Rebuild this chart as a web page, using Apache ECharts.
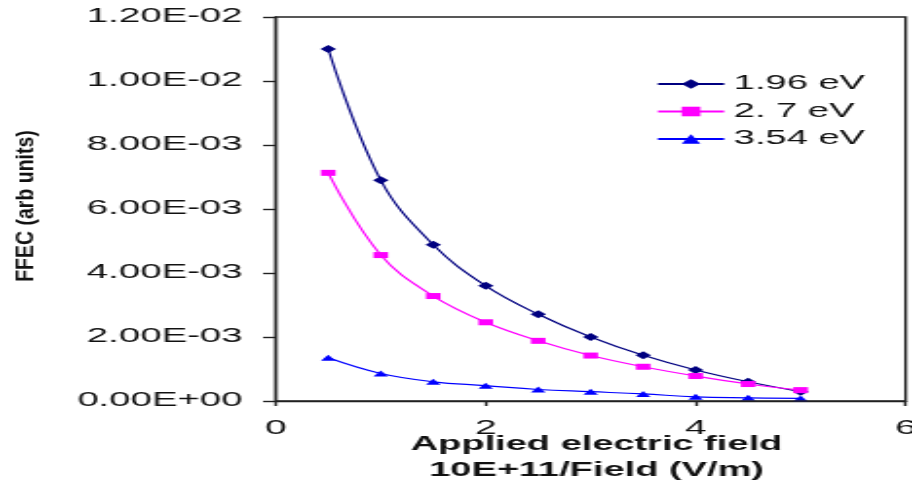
<!DOCTYPE html>
<html>
<head>
<meta charset="utf-8">
<script src="https://cdn.jsdelivr.net/npm/echarts@6/dist/echarts.min.js"></script>
<style>
  html, body { margin: 0; padding: 0; background: #fff; overflow: hidden; }
  #wrap { width: 912px; height: 481px; overflow: hidden; }
  #chart { width: 468px; height: 481px; transform: scaleX(1.94872); transform-origin: 0 0; }
</style>
</head>
<body>
<div id="wrap"><div id="chart"></div></div>
<script>
// ---- data ----
var fieldX = [0.5, 1, 1.5, 2, 2.5, 3, 3.5, 4, 4.5, 5];
var seriesNames = ['1.96 eV', '2. 7 eV', '3.54 eV'];
var ev196 = [0.0110, 0.0069, 0.00488, 0.00360, 0.00271, 0.00200, 0.00143, 0.00097, 0.00060, 0.00029];
var ev27  = [0.00713, 0.00456, 0.00328, 0.00246, 0.00188, 0.00142, 0.00107, 0.00078, 0.00053, 0.00034];
var ev354 = [0.00135, 0.00086, 0.00060, 0.00048, 0.00036, 0.00029, 0.00022, 0.00013, 0.00010, 0.00008];
var yTickLabels = ['0.00E+00', '2.00E-03', '4.00E-03', '6.00E-03', '8.00E-03', '1.00E-02', '1.20E-02'];
var xTickLabels = ['0', '2', '4', '6'];
var xRange = [0, 6];
var yRange = [0, 0.012];

function pairs(xs, ys) { return xs.map(function (x, i) { return [x, ys[i]]; }); }

var FONT = "'Liberation Sans', Arial, sans-serif";
var AX = '#222';
var NONE = 'rgba(0,0,0,0)';

var chart = echarts.init(document.getElementById('chart'), null, { renderer: 'canvas' });
chart.setOption({
  animation: false,
  textStyle: { fontFamily: FONT },
  grid: { left: 141.5, right: 3.3, top: 17, bottom: 80, containLabel: false, outerBoundsMode: 'none' },
  legend: {
    left: 336.6, top: 74, orient: 'vertical', padding: 0,
    itemWidth: 34, itemHeight: 12, itemGap: 7.5,
    textStyle: { fontFamily: FONT, fontSize: 19.5, color: '#111', lineHeight: 20 },
    data: seriesNames
  },
  xAxis: {
    type: 'value', min: xRange[0], max: xRange[1], interval: 2,
    axisLine: { onZero: false, lineStyle: { color: AX, width: 1.4 } },
    axisTick: { show: true, length: 5, inside: false, lineStyle: { color: AX, width: 1.4 } },
    splitLine: { show: true, showMinLine: false, showMaxLine: true,
      lineStyle: { color: [NONE, NONE, NONE, AX], width: 1.4, type: 'solid' } },
    axisLabel: { fontFamily: FONT, fontSize: 20, color: '#111', margin: 17,
      formatter: function (v) { return xTickLabels[Math.round(v / 2)]; } },
    name: 'Applied electric field\n10E+11/Field (V/m)',
    nameLocation: 'middle', nameGap: 31, nameMoveOverlap: false,
    nameTextStyle: { fontFamily: FONT, fontSize: 19.5, fontWeight: 'bold', color: '#111', lineHeight: 25.5, padding: [0, 0, 0, 6] }
  },
  yAxis: {
    type: 'value', min: yRange[0], max: yRange[1], interval: 0.002,
    axisLine: { show: true, onZero: false, lineStyle: { color: AX, width: 1.4 } },
    axisTick: { show: true, length: 6.5, inside: false, lineStyle: { color: AX, width: 1.4 } },
    splitLine: { show: true, showMinLine: false, showMaxLine: true,
      lineStyle: { color: [NONE, NONE, NONE, NONE, NONE, NONE, AX], width: 1.4, type: 'solid' } },
    axisLabel: { fontFamily: FONT, fontSize: 19.7, color: '#111', margin: 17,
      formatter: function (v) { return yTickLabels[Math.round(v / 0.002)]; } }
  },
  series: [
    { name: seriesNames[0], type: 'line', smooth: 0.4, data: pairs(fieldX, ev196),
      symbol: 'diamond', symbolSize: [8, 8], lineStyle: { color: '#000080', width: 1.2 }, itemStyle: { color: '#000080' } },
    { name: seriesNames[1], type: 'line', smooth: 0.4, data: pairs(fieldX, ev27),
      symbol: 'rect', symbolSize: [7.5, 6], lineStyle: { color: '#FF00FF', width: 1.2 }, itemStyle: { color: '#FF00FF' } },
    { name: seriesNames[2], type: 'line', smooth: 0.4, data: pairs(fieldX, ev354),
      symbol: 'triangle', symbolSize: [7.5, 6], lineStyle: { color: '#0000FF', width: 1.2 }, itemStyle: { color: '#0000FF' } }
  ]
});

// y-axis title and the plot-area frame (top and right edges), placed through the chart's own scales
var p0 = chart.convertToPixel({ gridIndex: 0 }, [xRange[0], yRange[0]]);
var p1 = chart.convertToPixel({ gridIndex: 0 }, [xRange[1], yRange[1]]);
chart.setOption({
  graphic: [{
    id: 'ytitle', type: 'text', x: 13.7, y: 206, rotation: Math.PI / 2, scaleX: 1.5,
    style: { text: 'FFEC (arb units)', font: "bold 13px 'Liberation Sans', Arial, sans-serif", fill: '#111', textAlign: 'center', textVerticalAlign: 'middle' }
  }, {
    id: 'frame', type: 'rect', z: 50, silent: true,
    shape: { x: p0[0], y: p1[1], width: p1[0] - p0[0], height: p0[1] - p1[1] },
    style: { stroke: AX, lineWidth: 1.4, fill: NONE }
  }]
});
</script>
</body>
</html>
